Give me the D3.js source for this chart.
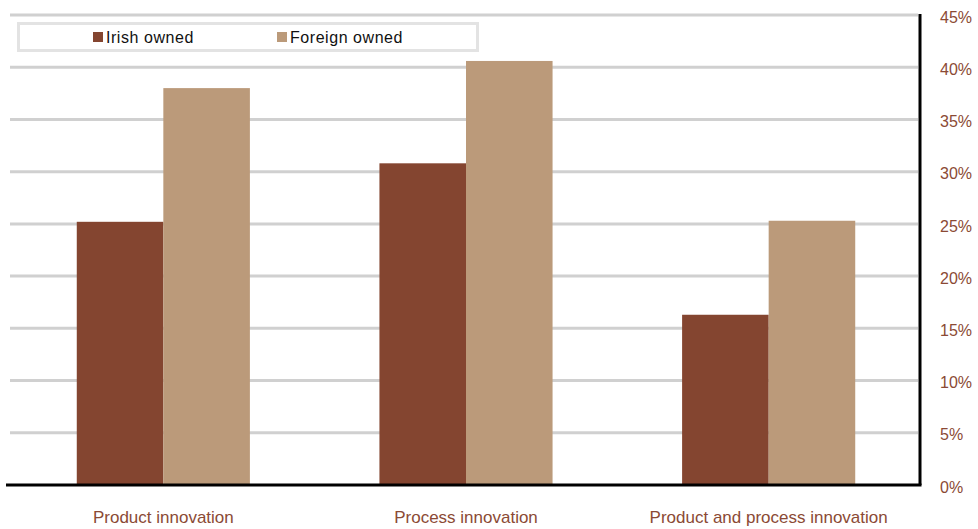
<!DOCTYPE html>
<html>
<head>
<meta charset="utf-8">
<script src="https://cdn.jsdelivr.net/npm/d3@7"></script>
<style>
  html, body { margin: 0; padding: 0; background: #fff; }
  svg { display: block; font-family: "Liberation Sans", Arial, sans-serif; }
</style>
</head>
<body>
<svg id="chart" width="978" height="529"></svg>
<script>
// Share of enterprises that innovated, by ownership
const categories = ["Product innovation", "Process innovation", "Product and process innovation"];
const seriesNames = ["Irish owned", "Foreign owned"];
const irishOwned = [25.2, 30.8, 16.3];
const foreignOwned = [38.0, 40.6, 25.3];
const yTicks = [0, 5, 10, 15, 20, 25, 30, 35, 40, 45];

const colors = ["#844530", "#bb9a7a"];
const labelColor = "#8b4a35";

const svg = d3.select("#chart");
const plotLeft = 10, plotRight = 920, plotTop = 15, plotBottom = 485;

const y = d3.scaleLinear().domain([0, 45]).range([plotBottom, plotTop]);
const x0 = d3.scaleBand().domain(categories).range([12, plotRight])
  .paddingInner(0.428).paddingOuter(0.214);
const x1 = d3.scaleBand().domain(seriesNames).range([0, x0.bandwidth()]);

// horizontal gridlines
svg.append("g").selectAll("line")
  .data(yTicks.filter(d => d > 0))
  .join("line")
  .attr("x1", plotLeft).attr("x2", plotRight - 2)
  .attr("y1", d => y(d)).attr("y2", d => y(d))
  .attr("stroke", "#d0d0d0").attr("stroke-width", 3);

// bars
const rows = categories.map((c, i) => ({ cat: c, values: [irishOwned[i], foreignOwned[i]] }));
svg.append("g").selectAll("g")
  .data(rows)
  .join("g")
  .attr("transform", d => `translate(${x0(d.cat)},0)`)
  .selectAll("rect")
  .data(d => d.values.map((v, j) => ({ name: seriesNames[j], v, j })))
  .join("rect")
  .attr("x", d => x1(d.name))
  .attr("width", x1.bandwidth())
  .attr("y", d => y(d.v))
  .attr("height", d => y(0) - y(d.v))
  .attr("fill", d => colors[d.j]);

// baseline and right axis line
svg.append("line")
  .attr("x1", 6).attr("x2", plotRight + 1.5)
  .attr("y1", y(0)).attr("y2", y(0))
  .attr("stroke", "#000").attr("stroke-width", 3);
svg.append("line")
  .attr("x1", plotRight).attr("x2", plotRight)
  .attr("y1", plotTop - 1).attr("y2", y(0))
  .attr("stroke", "#000").attr("stroke-width", 3);

// right-side value axis
const yAxis = d3.axisRight(y).tickValues(yTicks).tickSize(0).tickPadding(0)
  .tickFormat(d => d + "%");
const gy = svg.append("g").attr("transform", `translate(940,2)`).call(yAxis);
gy.select(".domain").remove();
gy.selectAll("text")
  .attr("fill", labelColor)
  .attr("font-size", 16)
  .attr("font-family", "Liberation Sans, Arial, sans-serif");

// category axis
const xAxis = d3.axisBottom(x0).tickSize(0).tickPadding(0);
const gx = svg.append("g").attr("transform", `translate(0,511)`).call(xAxis);
gx.select(".domain").remove();
gx.selectAll("text")
  .attr("fill", labelColor)
  .attr("font-size", 17)
  .attr("font-family", "Liberation Sans, Arial, sans-serif");

// legend
const legend = svg.append("g");
legend.append("rect")
  .attr("x", 18.5).attr("y", 23.5).attr("width", 459).attr("height", 27)
  .attr("fill", "#fff").attr("stroke", "#e3e3e3").attr("stroke-width", 3);
const legendX = [93, 277];
const items = legend.selectAll("g.item")
  .data(seriesNames)
  .join("g").attr("class", "item")
  .attr("transform", (d, i) => `translate(${legendX[i]},32)`);
items.append("rect")
  .attr("width", 10).attr("height", 10)
  .attr("fill", (d, i) => colors[i]);
items.append("text")
  .attr("x", 13).attr("y", 10.7)
  .attr("font-size", 16)
  .attr("letter-spacing", 0.55)
  .attr("fill", "#111")
  .text(d => d);
</script>
</body>
</html>
